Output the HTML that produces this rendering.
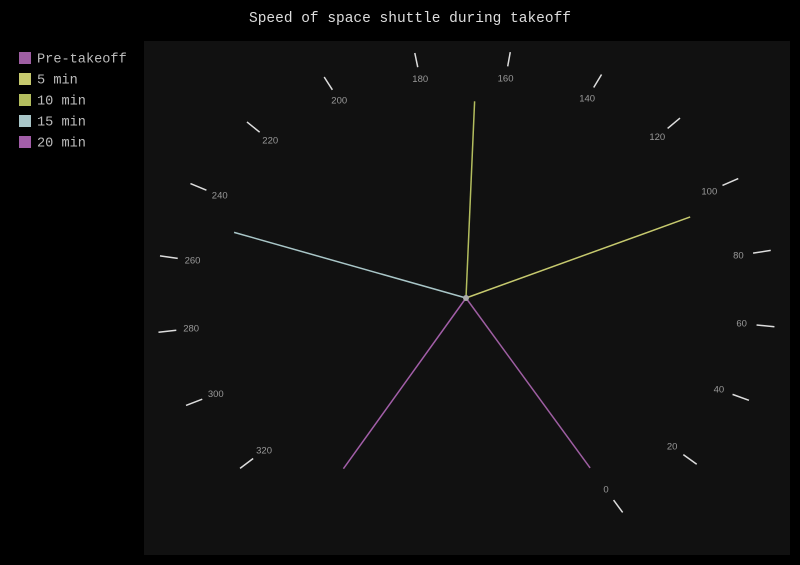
<!DOCTYPE html>
<html><head><meta charset="utf-8"><style>
body{margin:0;background:#000;}
svg{display:block;font-family:"Liberation Mono",monospace;}
</style></head><body>
<svg id="chart" width="800" height="565" viewBox="0 0 800 565">
<rect x="0" y="0" width="800" height="565" fill="#000"/>
<rect x="144" y="41" width="646" height="514" fill="#111"/>
<text x="410" y="22" text-anchor="middle" fill="#ddd" font-size="14.5">Speed of space shuttle during takeoff</text>
<g id="legend"></g>
<g id="ticks"></g>
<g id="needles"></g>
</svg>
<script>
const seriesNames = ["Pre-takeoff","5 min","10 min","15 min","20 min"];
const seriesValues = [0, 95, 167, 249, 339];
const seriesColors = ["#9e5ea2","#c6c96e","#b3bd5e","#a9c6c8","#a25ea8"];
const tickLabels = [0,20,40,60,80,100,120,140,160,180,200,220,240,260,280,300,320];

const NS="http://www.w3.org/2000/svg";
const cx=466, cy=298, rx=300, ry=240;
const startDeg=149.7, degPerUnit=0.8844;
function angle(v){return (startDeg - v*degPerUnit)*Math.PI/180;}
function px(v,r){return cx + r*rx*Math.sin(angle(v));}
function py(v,r){return cy - r*ry*Math.cos(angle(v));}
function mk(tag,attrs,parent){const e=document.createElementNS(NS,tag);for(const k in attrs)e.setAttribute(k,attrs[k]);parent.appendChild(e);return e;}

const tg=document.getElementById('ticks');
tickLabels.forEach(v=>{
  const l=mk('line',{x1:px(v,0.975),y1:py(v,0.975),x2:px(v,1.035),y2:py(v,1.035),stroke:'#ddd','stroke-width':1.5},tg);
  
  
  const t=mk('text',{x:px(v,0.925),y:py(v,0.925)+3,'text-anchor':'middle',fill:'#999','font-size':9.5,'font-family':'"Liberation Sans",sans-serif'},tg);
  t.textContent=v;
  
  
});

const ng=document.getElementById('needles');
seriesValues.forEach((v,i)=>{
  const l=mk('line',{x1:cx,y1:cy,x2:px(v,0.82),y2:py(v,0.82),stroke:seriesColors[i],'stroke-width':1.5},ng);
  
  
});
const hub=mk('circle',{cx:cx,cy:cy,r:3,fill:'#aaa'},ng);



const lg=document.getElementById('legend');
seriesNames.forEach((n,i)=>{
  const y=52+i*21;
  const r=mk('rect',{x:19,y:y,width:12,height:12,fill:seriesColors[i]},lg);
  
  
  const t=mk('text',{x:37,y:y+10.5,fill:'#bbb','font-size':13.6},lg);
  t.textContent=n;
  
  
});
</script>
</body></html>
